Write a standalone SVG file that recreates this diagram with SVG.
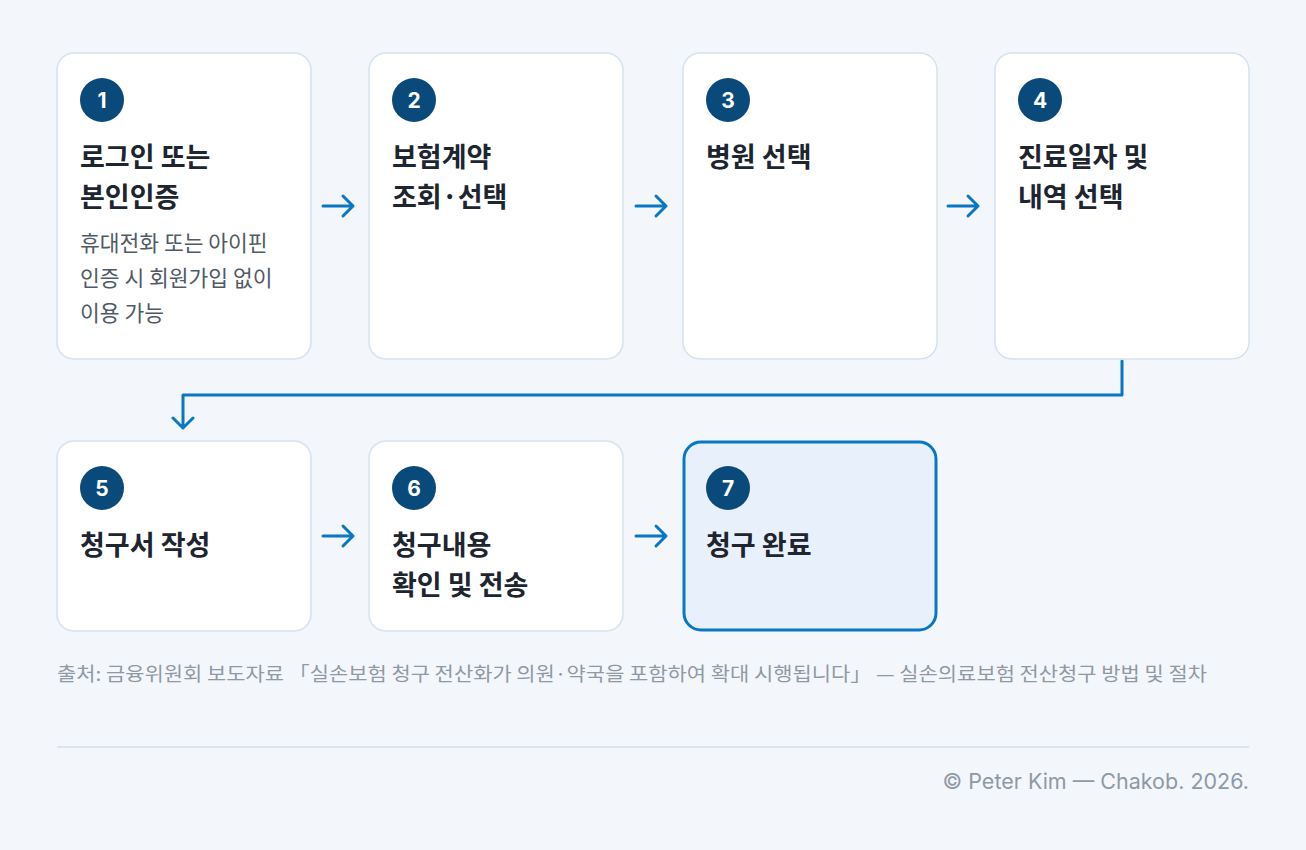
<svg xmlns="http://www.w3.org/2000/svg" width="1306" height="850" viewBox="0 0 1306 850">
<style>
.card{fill:#fff;stroke:#d5e2ee;stroke-width:1.5}
.hl{fill:#e8f1fb;stroke:#0a77c5;stroke-width:3}
.num{fill:#0a4a7a}
.nt{fill:#fff;font-family:Inter,"Noto Sans CJK KR",sans-serif;font-weight:700;font-size:21px;text-anchor:middle}
.t{fill:#1c2530;font-family:"Noto Sans CJK KR",sans-serif;font-weight:700;font-size:27px}
.d{fill:#4f5a66;font-family:"Noto Sans CJK KR",sans-serif;font-size:21.5px}
.c{stroke:#0a77c5;stroke-width:3;fill:none;stroke-linecap:round;stroke-linejoin:round}
.cap{fill:#8e99a5;font-family:"Noto Sans CJK KR",sans-serif;font-size:19px}
</style>
<rect width="1306" height="850" fill="#f3f7fb"/>
<g id="connectors">
<path class="c" d="M323 206H353M343 196L353 206L343 216"/>
<path class="c" d="M636 206H666M656 196L666 206L656 216"/>
<path class="c" d="M948 206H978M968 196L978 206L968 216"/>
<path class="c" d="M1122 361V395H183V428M173 418L183 428L193 418"/>
<path class="c" d="M323 536H353M343 526L353 536L343 546"/>
<path class="c" d="M636 536H666M656 526L666 536L656 546"/>
</g>
<g id="n1"><rect class="card" x="57" y="53" width="254" height="306" rx="17"/><circle class="num" cx="102" cy="100" r="22"/><text class="nt" x="102" y="108">1</text>
<text class="t" x="80" y="167">로그인 또는</text><text class="t" x="80" y="207">본인인증</text>
<text class="d" x="80" y="251">휴대전화 또는 아이핀</text><text class="d" x="80" y="286">인증 시 회원가입 없이</text><text class="d" x="80" y="321">이용 가능</text></g>
<g id="n2"><rect class="card" x="369" y="53" width="254" height="306" rx="17"/><circle class="num" cx="414" cy="100" r="22"/><text class="nt" x="414" y="108">2</text>
<text class="t" x="392" y="167">보험계약</text><text class="t" x="392" y="207">조회·선택</text></g>
<g id="n3"><rect class="card" x="683" y="53" width="254" height="306" rx="17"/><circle class="num" cx="728" cy="100" r="22"/><text class="nt" x="728" y="108">3</text>
<text class="t" x="706" y="167">병원 선택</text></g>
<g id="n4"><rect class="card" x="995" y="53" width="254" height="306" rx="17"/><circle class="num" cx="1040" cy="100" r="22"/><text class="nt" x="1040" y="108">4</text>
<text class="t" x="1018" y="167">진료일자 및</text><text class="t" x="1018" y="207">내역 선택</text></g>
<g id="n5"><rect class="card" x="57" y="441" width="254" height="190" rx="17"/><circle class="num" cx="102" cy="488" r="22"/><text class="nt" x="102" y="496">5</text>
<text class="t" x="80" y="555">청구서 작성</text></g>
<g id="n6"><rect class="card" x="369" y="441" width="254" height="190" rx="17"/><circle class="num" cx="414" cy="488" r="22"/><text class="nt" x="414" y="496">6</text>
<text class="t" x="392" y="555">청구내용</text><text class="t" x="392" y="595">확인 및 전송</text></g>
<g id="n7"><rect class="hl" x="684" y="442" width="252" height="188" rx="17"/><circle class="num" cx="728" cy="488" r="22"/><text class="nt" x="728" y="496">7</text>
<text class="t" x="706" y="555">청구 완료</text></g>
<text class="cap" x="57" y="681" textLength="1150" lengthAdjust="spacingAndGlyphs">출처: 금융위원회 보도자료 「실손보험 청구 전산화가 의원·약국을 포함하여 확대 시행됩니다」 — 실손의료보험 전산청구 방법 및 절차</text>
<line x1="57" y1="747" x2="1249" y2="747" stroke="#d5dee8" stroke-width="1.5"/>
<text class="cap" x="1249" y="789" text-anchor="end" style="font-size:21.5px;font-family:Inter,sans-serif">© Peter Kim — Chakob. 2026.</text>
</svg>
